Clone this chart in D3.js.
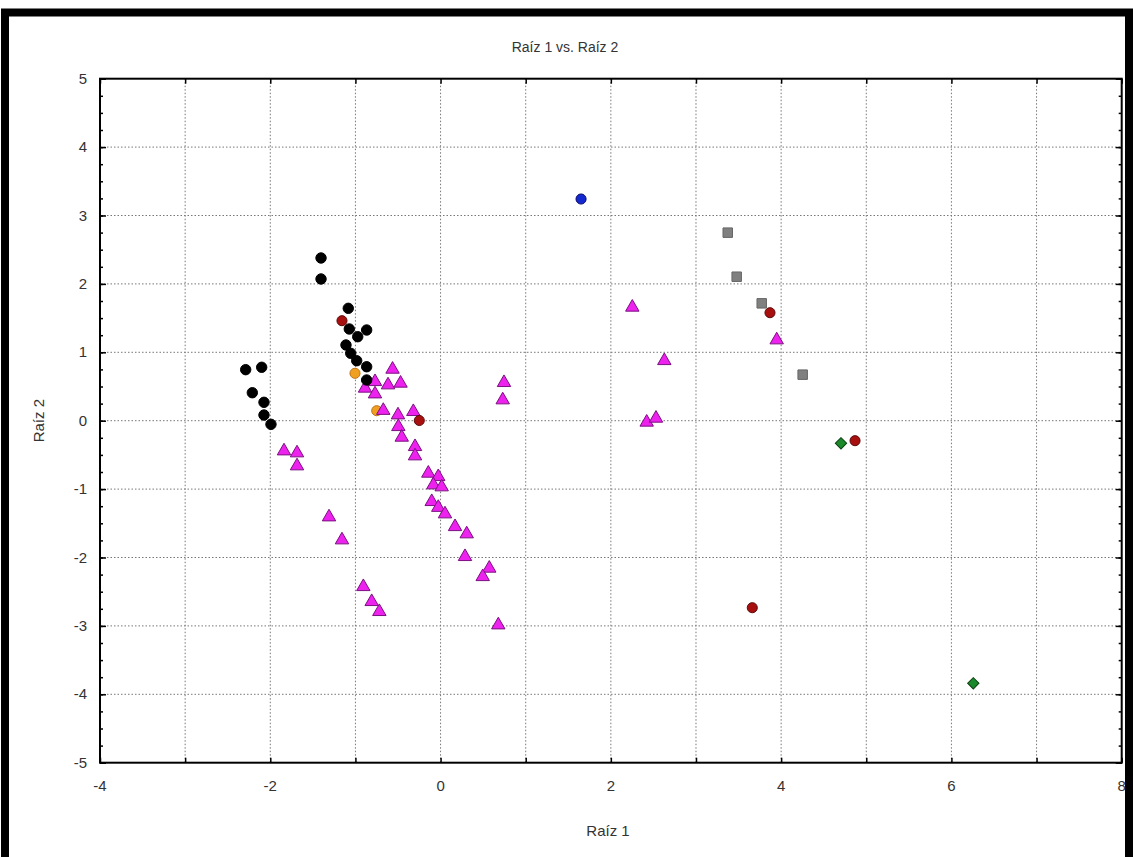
<!DOCTYPE html>
<html>
<head>
<meta charset="utf-8">
<script src="https://cdn.jsdelivr.net/npm/d3@7"></script>
<style>
  body { margin: 0; background: #fff; }
  text { font-family: "Liberation Sans", Arial, sans-serif; fill: #333; }
</style>
</head>
<body>
<div id="canvas"></div>
<script>
// grupos (Raiz 1, Raiz 2)
const grupoNegro = [
  [-1.404, 2.379], [-1.404, 2.072], [-1.084, 1.643], [-1.072, 1.341], [-0.868, 1.326],
  [-0.973, 1.228], [-1.111, 1.107], [-1.055, 0.985], [-0.985, 0.877], [-0.868, 0.789],
  [-0.868, 0.595], [-2.289, 0.746], [-2.101, 0.781], [-2.211, 0.409], [-2.074, 0.269],
  [-2.074, 0.083], [-1.992, -0.053]
];
const grupoRojo = [
  [-1.158, 1.462], [-0.250, 0.003], [3.869, 1.579], [4.868, -0.292], [3.661, -2.734]
];
const grupoNaranja = [[-1.005, 0.693], [-0.750, 0.146]];
const grupoAzul = [[1.650, 3.241]];
const grupoGris = [[3.373, 2.749], [3.478, 2.105], [3.772, 1.716], [4.253, 0.673]];
const grupoVerde = [[4.703, -0.330], [6.257, -3.839]];
const grupoMagenta = [
  [-1.839, -0.443], [-1.686, -0.472], [-1.686, -0.662], [-1.310, -1.408], [-1.158, -1.744],
  [-0.907, -2.427], [-0.809, -2.646], [-0.719, -2.792], [0.678, -2.987], [0.745, 0.556],
  [0.730, 0.303], [2.252, 1.658], [2.628, 0.877], [2.421, -0.023], [2.530, 0.035],
  [3.948, 1.180],
  [-0.564, 0.751], [-0.770, 0.570], [-0.617, 0.522], [-0.470, 0.547], [-0.770, 0.390],
  [-0.887, 0.474], [-0.673, 0.149], [-0.500, 0.083], [-0.320, 0.132], [-0.496, -0.088],
  [-0.456, -0.243], [-0.300, -0.380], [-0.300, -0.516], [-0.144, -0.769], [-0.027, -0.819],
  [-0.085, -0.940], [0.013, -0.969], [-0.104, -1.184], [-0.027, -1.269], [0.052, -1.364],
  [0.170, -1.550], [0.307, -1.656], [0.287, -1.988], [0.572, -2.158], [0.495, -2.281]
];

const xTicks = [-4, -2, 0, 2, 4, 6, 8];
const yTicks = [5, 4, 3, 2, 1, 0, -1, -2, -3, -4, -5];

const width = 1133;
const height = 857;
const margin = { top: 78.7, left: 100, bottom: 857 - 762.7, right: 1133 - 1121.7 };

const svg = d3.select("#canvas").append("svg")
  .attr("width", width)
  .attr("height", height);

const x = d3.scaleLinear().domain([-4, 8]).range([margin.left, width - margin.right]);
const y = d3.scaleLinear().domain([-5, 5]).range([height - margin.bottom, margin.top]);

// marco exterior
svg.append("rect")
  .attr("x", 5).attr("y", 12.5)
  .attr("width", 1124).attr("height", 880)
  .attr("fill", "none").attr("stroke", "#000").attr("stroke-width", 8);

// rejilla punteada
const grid = svg.append("g");
grid.selectAll(".gx").data(d3.range(-3, 8)).enter().append("line")
  .attr("x1", d => x(d)).attr("x2", d => x(d))
  .attr("y1", y(5)).attr("y2", y(-5))
  .attr("stroke", "#777").attr("stroke-width", 1).attr("stroke-dasharray", "1.5,2");
grid.selectAll(".gy").data(d3.range(-4, 5)).enter().append("line")
  .attr("y1", d => y(d)).attr("y2", d => y(d))
  .attr("x1", x(-4)).attr("x2", x(8))
  .attr("stroke", "#777").attr("stroke-width", 1).attr("stroke-dasharray", "1.5,2");

// ejes con marcas hacia dentro
svg.append("g")
  .attr("transform", `translate(0,${y(-5)})`)
  .call(d3.axisTop(x).ticks(12).tickSize(5).tickFormat(""))
  .call(g => g.select(".domain").remove());
svg.append("g")
  .attr("transform", `translate(0,${y(5)})`)
  .call(d3.axisBottom(x).ticks(12).tickSize(5).tickFormat(""))
  .call(g => g.select(".domain").remove());

const yMinor = d3.range(-5, 5.01, 0.25);
svg.append("g")
  .attr("transform", `translate(${x(-4)},0)`)
  .call(d3.axisRight(y).tickValues(yMinor).tickSize(3).tickFormat(""))
  .call(g => g.select(".domain").remove());
svg.append("g")
  .attr("transform", `translate(${x(-4)},0)`)
  .call(d3.axisRight(y).ticks(10).tickSize(6).tickFormat(""))
  .call(g => g.select(".domain").remove());
svg.append("g")
  .attr("transform", `translate(${x(8)},0)`)
  .call(d3.axisLeft(y).tickValues(yMinor).tickSize(3).tickFormat(""))
  .call(g => g.select(".domain").remove());
svg.append("g")
  .attr("transform", `translate(${x(8)},0)`)
  .call(d3.axisLeft(y).ticks(10).tickSize(6).tickFormat(""))
  .call(g => g.select(".domain").remove());
svg.selectAll(".tick line").attr("stroke", "#000").attr("stroke-width", 1.5);

svg.append("rect")
  .attr("x", x(-4)).attr("y", y(5))
  .attr("width", x(8) - x(-4)).attr("height", y(-5) - y(5))
  .attr("fill", "none").attr("stroke", "#000").attr("stroke-width", 2);

// etiquetas de marcas
svg.selectAll(".xl").data(xTicks).enter().append("text")
  .attr("x", d => x(d)).attr("y", 791)
  .attr("text-anchor", "middle").attr("font-size", 15)
  .text(d => d);
svg.selectAll(".yl").data(yTicks).enter().append("text")
  .attr("x", 87).attr("y", d => y(d) + 5)
  .attr("text-anchor", "end").attr("font-size", 15)
  .text(d => d);

// titulos
svg.append("text").attr("x", 565).attr("y", 52)
  .attr("text-anchor", "middle").attr("font-size", 14)
  .text("Raíz 1 vs. Raíz 2");
svg.append("text").attr("x", 608).attr("y", 836)
  .attr("text-anchor", "middle").attr("font-size", 15)
  .text("Raíz 1");
svg.append("text")
  .attr("transform", `translate(44,${y(0)}) rotate(-90)`)
  .attr("text-anchor", "middle").attr("font-size", 15)
  .text("Raíz 2");

// puntos
function dibujar(data, tipo, size, fill, stroke, giro) {
  svg.append("g").selectAll("path").data(data).enter().append("path")
    .attr("transform", d => `translate(${x(d[0])},${y(d[1])}) rotate(${giro || 0})`)
    .attr("d", d3.symbol().type(tipo).size(size))
    .attr("fill", fill)
    .attr("stroke", stroke)
    .attr("stroke-width", 1);
}

dibujar(grupoNaranja, d3.symbolCircle, 80, "#f0a020", "#c07010");
dibujar(grupoMagenta, d3.symbolTriangle, 78, "#ee22ee", "#7a1080");
dibujar(grupoNegro, d3.symbolCircle, 85, "#000", "#000");
dibujar(grupoRojo, d3.symbolCircle, 80, "#a81010", "#5a0808");
dibujar(grupoGris, d3.symbolSquare, 90, "#808080", "#666");
dibujar(grupoAzul, d3.symbolCircle, 80, "#1428d0", "#0a0a70");
dibujar(grupoVerde, d3.symbolSquare, 64, "#1a8a2a", "#0a4010", 45);
</script>
</body>
</html>
